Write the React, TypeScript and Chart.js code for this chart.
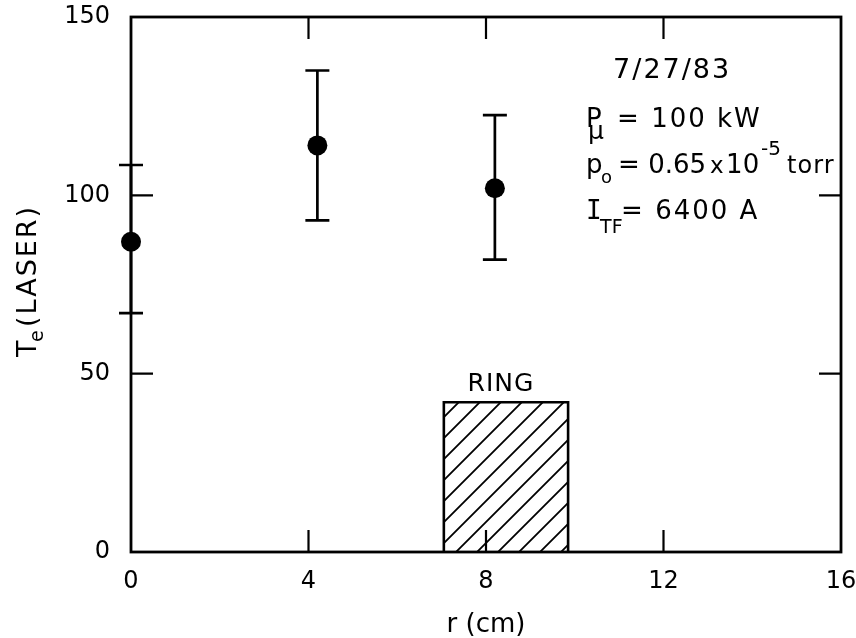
import { useEffect, useRef } from "react";
import { Chart, registerables } from "chart.js";

Chart.register(...registerables);

// Laser Thomson-scattering electron temperature vs. radius
const radiusCm = [0, 4.2, 8.2];
const teLaser = [87, 114, 102];
const teLower = [67, 93, 82];
const teUpper = [108.5, 135, 122.5];

// Ring position (radial extent) and the height the box is drawn to
const ringEdges = [7.05, 9.85];
const ringHeight = 42;

const xTicks = [0, 4, 8, 12, 16];
const yTicks = [0, 50, 100, 150];
const innerXTicks = [4, 8, 12];
const innerYTicks = [50, 100];

const FONT = "'DejaVu Sans', 'Liberation Sans', sans-serif";
const MONO = "'DejaVu Sans Mono', 'Liberation Mono', monospace";

type Run = { text: string; dx: number; dy?: number; size: number; spacing?: number; family?: string };

// Shot parameters: each line is a list of text runs (sub/superscripts as offset runs)
const infoLines: { baseline: number; runs: Run[] }[] = [
  { baseline: 61, runs: [{ text: "7/27/83", dx: 27, size: 27, spacing: 2 }] },
  {
    baseline: 110,
    runs: [
      { text: "P", dx: 0, size: 26 },
      { text: "\u03bc", dx: 2, dy: 12, size: 25 },
      { text: "= 100 kW", dx: 31, size: 26, spacing: 2 },
    ],
  },
  {
    baseline: 156,
    runs: [
      { text: "p", dx: 0, size: 26 },
      { text: "o", dx: 15, dy: 10, size: 18 },
      { text: "= 0.65", dx: 32, size: 26 },
      { text: "x", dx: 124, size: 23 },
      { text: "10", dx: 140, size: 26 },
      { text: "-5", dx: 175, dy: -18, size: 20 },
      { text: "torr", dx: 201, size: 24, spacing: 1 },
    ],
  },
  {
    baseline: 202,
    runs: [
      { text: "I", dx: 0, size: 26, family: MONO },
      { text: "TF", dx: 14, dy: 14, size: 19 },
      { text: "= 6400 A", dx: 35, size: 26, spacing: 2 },
    ],
  },
];

function makeHatch(): CanvasPattern | string {
  const s = 21;
  const c = document.createElement("canvas");
  c.width = s;
  c.height = s;
  const g = c.getContext("2d");
  if (!g) return "rgba(0,0,0,0.2)";
  g.strokeStyle = "#000";
  g.lineWidth = 1.8;
  g.beginPath();
  g.moveTo(-2, s + 2);
  g.lineTo(s + 2, -2);
  g.moveTo(-2, 2);
  g.lineTo(2, -2);
  g.moveTo(s - 2, s + 2);
  g.lineTo(s + 2, s - 2);
  g.stroke();
  return g.createPattern(c, "repeat") ?? "rgba(0,0,0,0.2)";
}

const errorBars = {
  id: "errorBars",
  afterDatasetsDraw(chart: any) {
    const { ctx, scales } = chart;
    const xs = scales.x;
    const ys = scales.y;
    ctx.save();
    ctx.strokeStyle = "#000";
    ctx.lineWidth = 2.7;
    ctx.lineCap = "butt";
    radiusCm.forEach((r, i) => {
      const px = xs.getPixelForValue(r);
      const lo = ys.getPixelForValue(teLower[i]);
      const hi = ys.getPixelForValue(teUpper[i]);
      ctx.beginPath();
      ctx.moveTo(px, lo);
      ctx.lineTo(px, hi);
      ctx.moveTo(px - 12, lo);
      ctx.lineTo(px + 12, lo);
      ctx.moveTo(px - 12, hi);
      ctx.lineTo(px + 12, hi);
      ctx.stroke();
    });
    ctx.restore();
  },
};

const frameAndText = {
  id: "frameAndText",
  afterDraw(chart: any) {
    const { ctx, chartArea, scales } = chart;
    const { left, right, top, bottom } = chartArea;
    const xs = scales.x;
    const ys = scales.y;
    ctx.save();
    ctx.strokeStyle = "#000";
    ctx.lineWidth = 2.8;
    ctx.strokeRect(left, top, right - left, bottom - top);

    // inward tick marks on all four sides
    ctx.lineWidth = 2.2;
    const len = 22;
    ctx.beginPath();
    innerXTicks.forEach((v) => {
      const px = xs.getPixelForValue(v);
      ctx.moveTo(px, bottom);
      ctx.lineTo(px, bottom - len);
      ctx.moveTo(px, top);
      ctx.lineTo(px, top + len);
    });
    innerYTicks.forEach((v) => {
      const py = ys.getPixelForValue(v);
      ctx.moveTo(left, py);
      ctx.lineTo(left + len, py);
      ctx.moveTo(right, py);
      ctx.lineTo(right - len, py);
    });
    ctx.stroke();

    ctx.fillStyle = "#000";
    ctx.textBaseline = "alphabetic";
    ctx.textAlign = "left";

    // RING label above the hatched box
    const ringMid = (xs.getPixelForValue(ringEdges[0]) + xs.getPixelForValue(ringEdges[1])) / 2;
    ctx.font = `25px ${FONT}`;
    (ctx as any).letterSpacing = "1px";
    ctx.textAlign = "center";
    ctx.fillText("RING", ringMid - 5, ys.getPixelForValue(ringHeight) - 11);
    ctx.textAlign = "left";

    // shot parameters
    const x0 = left + (right - left) * 0.641;
    infoLines.forEach((line) => {
      line.runs.forEach((r) => {
        ctx.font = `${r.size}px ${r.family ?? FONT}`;
        (ctx as any).letterSpacing = `${r.spacing ?? 0}px`;
        ctx.fillText(r.text, x0 + r.dx, top + line.baseline + (r.dy ?? 0));
      });
    });

    // y-axis title, T_e(LASER), reading upward
    ctx.translate(36, 357);
    ctx.rotate(-Math.PI / 2);
    ctx.font = `27px ${FONT}`;
    (ctx as any).letterSpacing = "0px";
    ctx.fillText("T", 0, 0);
    ctx.font = `19px ${FONT}`;
    ctx.fillText("e", 15, 7);
    ctx.font = `27px ${FONT}`;
    (ctx as any).letterSpacing = "2px";
    ctx.fillText("(LASER)", 30, 0);
    ctx.restore();
  },
};

export default function App() {
  const ref = useRef<HTMLCanvasElement>(null);

  useEffect(() => {
    const canvas = ref.current;
    if (!canvas) return;
    Chart.defaults.color = "#000";
    const chart = new Chart(canvas, {
      type: "scatter",
      data: {
        datasets: [
          {
            label: "Te (laser)",
            data: radiusCm.map((r, i) => ({ x: r, y: teLaser[i] })),
            pointRadius: 10,
            pointHoverRadius: 10,
            pointBackgroundColor: "#000",
            pointBorderColor: "#000",
            pointBorderWidth: 0,
            clip: false as any,
          },
          {
            type: "line" as any,
            label: "Ring",
            data: [
              { x: ringEdges[0], y: 0 },
              { x: ringEdges[0], y: ringHeight },
              { x: ringEdges[1], y: ringHeight },
              { x: ringEdges[1], y: 0 },
            ],
            borderColor: "#000",
            borderWidth: 2.6,
            pointRadius: 0,
            tension: 0,
            fill: "origin",
            backgroundColor: makeHatch() as any,
          } as any,
        ],
      },
      options: {
        animation: false,
        responsive: false,
        devicePixelRatio: 1,
        layout: { padding: { top: 17, right: 15, left: 0, bottom: 0 } },
        plugins: {
          legend: { display: false },
          tooltip: { enabled: false },
        },
        scales: {
          x: {
            type: "linear",
            min: 0,
            max: 16,
            grid: { display: false, drawTicks: false },
            border: { display: false },
            afterBuildTicks: (s: any) => {
              s.ticks = xTicks.map((v) => ({ value: v }));
            },
            afterFit: (s: any) => {
              s.height = 86;
              s.paddingLeft = 0;
              s.paddingRight = 0;
            },
            ticks: {
              padding: 18,
              color: "#000",
              font: { family: FONT, size: 24, lineHeight: 1 },
              maxRotation: 0,
              autoSkip: false,
            },
            title: {
              display: true,
              text: "r (cm)",
              color: "#000",
              font: { family: FONT, size: 26, lineHeight: 1 },
              padding: { top: 0, bottom: 0 },
            },
          },
          y: {
            type: "linear",
            min: 0,
            max: 150,
            grid: { display: false, drawTicks: false },
            border: { display: false },
            afterBuildTicks: (s: any) => {
              s.ticks = yTicks.map((v) => ({ value: v }));
            },
            afterFit: (s: any) => {
              s.width = 131;
              s.paddingTop = 0;
              s.paddingBottom = 0;
            },
            ticks: {
              padding: 21,
              color: "#000",
              font: { family: FONT, size: 24, lineHeight: 1 },
            },
          },
        },
      },
      plugins: [errorBars, frameAndText],
    });
    return () => chart.destroy();
  }, []);

  return (
    <div style={{ position: "fixed", left: 0, top: 0, width: 856, height: 638, background: "#fff" }}>
      <canvas ref={ref} width={856} height={638} style={{ display: "block", width: 856, height: 638 }} />
    </div>
  );
}
